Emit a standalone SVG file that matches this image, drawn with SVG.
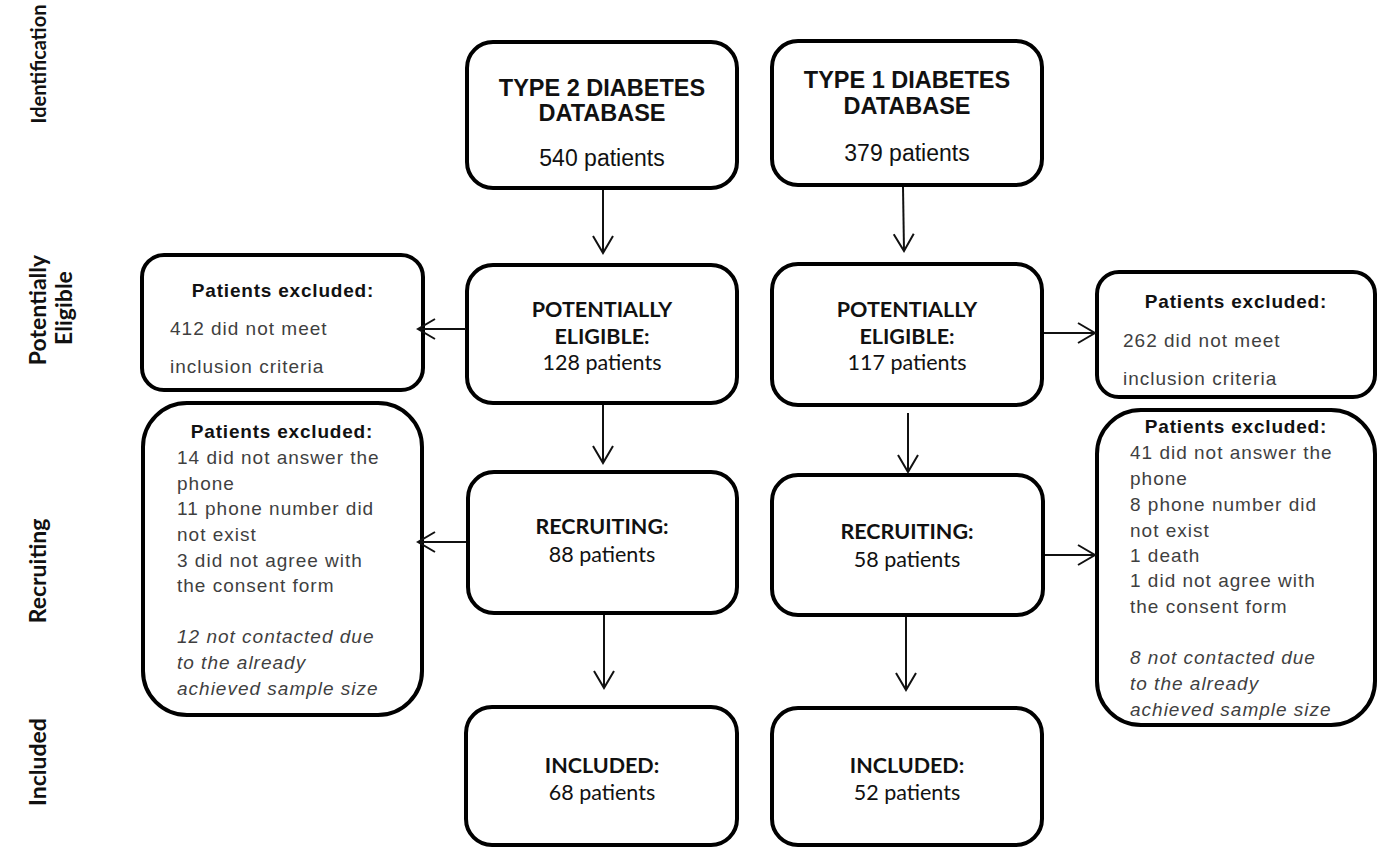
<svg xmlns="http://www.w3.org/2000/svg" width="1382" height="847" viewBox="0 0 1382 847">
<defs>
<style>
.box{fill:#fff;stroke:#000;stroke-width:4}
.side{font-family:Lato,"Liberation Sans",sans-serif;font-weight:bold;font-size:23px;fill:#111;text-anchor:middle}
.ab{font-family:"Liberation Sans",Arial,sans-serif;font-weight:bold;font-size:23.5px;fill:#111;text-anchor:middle}
.ar{font-family:"Liberation Sans",Arial,sans-serif;font-size:23px;fill:#111;text-anchor:middle}
.cb{font-family:Lato,"Liberation Sans",sans-serif;font-weight:bold;font-size:21.5px;fill:#111;text-anchor:middle}
.cr{font-family:Lato,"Liberation Sans",sans-serif;font-size:21.5px;fill:#111;text-anchor:middle}
.eh{font-family:"Liberation Sans",Arial,sans-serif;font-weight:bold;font-size:19px;letter-spacing:0.8px;fill:#111;text-anchor:middle}
.eb{font-family:"Liberation Sans",Arial,sans-serif;font-size:19px;letter-spacing:1px;fill:#3f3f3f}
.ei{font-style:italic}
.conn line{stroke:#111;stroke-width:2;fill:none;marker-end:url(#ah)}
</style>
<marker id="ah" markerUnits="userSpaceOnUse" viewBox="-20 -12 24 24" refX="0" refY="0" markerWidth="24" markerHeight="24" orient="auto">
<path d="M-17,-10 L0,0 L-17,10" fill="none" stroke="#111" stroke-width="2"/>
</marker>
</defs>
<rect width="1382" height="847" fill="#fff"/>

<g id="labels">
<text class="side" style="font-size:20px" transform="translate(46,64) rotate(-90)">Identification</text>
<text class="side" transform="translate(46,310) rotate(-90)">Potentially</text>
<text class="side" transform="translate(72,308) rotate(-90)">Eligible</text>
<text class="side" transform="translate(46,571) rotate(-90)">Recruiting</text>
<text class="side" transform="translate(46,762) rotate(-90)">Included</text>
</g>

<g id="t2db">
<rect class="box" x="467" y="42" width="270" height="146" rx="26"/>
<text class="ab" x="602" y="96">TYPE 2 DIABETES</text>
<text class="ab" x="602" y="121">DATABASE</text>
<text class="ar" x="602" y="166">540 patients</text>
</g>
<g id="t1db">
<rect class="box" x="772" y="41" width="270" height="144" rx="26"/>
<text class="ab" x="907" y="88">TYPE 1 DIABETES</text>
<text class="ab" x="907" y="114">DATABASE</text>
<text class="ar" x="907" y="161">379 patients</text>
</g>

<g id="excl1left">
<rect class="box" x="142" y="255" width="281" height="135" rx="22"/>
<text class="eh" x="283" y="297">Patients excluded:</text>
<text class="eb" x="170" y="335">412 did not meet</text>
<text class="eb" x="170" y="373">inclusion criteria</text>
</g>
<g id="t2pe">
<rect class="box" x="467" y="265" width="270" height="138" rx="26"/>
<text class="cb" x="602" y="317">POTENTIALLY</text>
<text class="cb" x="602" y="344">ELIGIBLE:</text>
<text class="cr" x="602" y="370">128 patients</text>
</g>
<g id="t1pe">
<rect class="box" x="772" y="264" width="270" height="141" rx="26"/>
<text class="cb" x="907" y="317">POTENTIALLY</text>
<text class="cb" x="907" y="344">ELIGIBLE:</text>
<text class="cr" x="907" y="370">117 patients</text>
</g>
<g id="excl1right">
<rect class="box" x="1097" y="272" width="278" height="125" rx="22"/>
<text class="eh" x="1236" y="308">Patients excluded:</text>
<text class="eb" x="1123" y="347">262 did not meet</text>
<text class="eb" x="1123" y="385">inclusion criteria</text>
</g>

<g id="excl2left">
<rect class="box" x="143" y="403" width="279" height="312" rx="44"/>
<text class="eh" x="282" y="438">Patients excluded:</text>
<text class="eb" x="177" y="464">14 did not answer the</text>
<text class="eb" x="177" y="490">phone</text>
<text class="eb" x="177" y="515">11 phone number did</text>
<text class="eb" x="177" y="541">not exist</text>
<text class="eb" x="177" y="567">3 did not agree with</text>
<text class="eb" x="177" y="592">the consent form</text>
<text class="eb ei" x="177" y="643">12 not contacted due</text>
<text class="eb ei" x="177" y="669">to the already</text>
<text class="eb ei" x="177" y="695">achieved sample size</text>
</g>
<g id="t2rec">
<rect class="box" x="468" y="472" width="269" height="141" rx="26"/>
<text class="cb" x="602" y="534">RECRUITING:</text>
<text class="cr" x="602" y="562">88 patients</text>
</g>
<g id="t1rec">
<rect class="box" x="772" y="475" width="271" height="140" rx="26"/>
<text class="cb" x="907" y="539">RECRUITING:</text>
<text class="cr" x="907" y="567">58 patients</text>
</g>
<g id="excl2right">
<rect class="box" x="1097" y="410" width="278" height="315" rx="44"/>
<text class="eh" x="1236" y="433">Patients excluded:</text>
<text class="eb" x="1130" y="459">41 did not answer the</text>
<text class="eb" x="1130" y="485">phone</text>
<text class="eb" x="1130" y="511">8 phone number did</text>
<text class="eb" x="1130" y="537">not exist</text>
<text class="eb" x="1130" y="562">1 death</text>
<text class="eb" x="1130" y="587">1 did not agree with</text>
<text class="eb" x="1130" y="613">the consent form</text>
<text class="eb ei" x="1130" y="664">8 not contacted due</text>
<text class="eb ei" x="1130" y="690">to the already</text>
<text class="eb ei" x="1130" y="716">achieved sample size</text>
</g>

<g id="t2inc">
<rect class="box" x="466" y="707" width="271" height="138" rx="26"/>
<text class="cb" x="602" y="773">INCLUDED:</text>
<text class="cr" x="602" y="800">68 patients</text>
</g>
<g id="t1inc">
<rect class="box" x="772" y="708" width="270" height="137" rx="26"/>
<text class="cb" x="907" y="773">INCLUDED:</text>
<text class="cr" x="907" y="800">52 patients</text>
</g>

<g id="connectors" class="conn">
<line x1="603" y1="190" x2="603" y2="253"/>
<line x1="603" y1="405" x2="603" y2="463"/>
<line x1="604" y1="615" x2="604" y2="688"/>
<line x1="903" y1="187" x2="904" y2="251"/>
<line x1="908" y1="413" x2="908" y2="472"/>
<line x1="906" y1="617" x2="906" y2="690"/>
<line x1="466" y1="329" x2="418" y2="329"/>
<line x1="466" y1="542" x2="418" y2="542"/>
<line x1="1044" y1="333" x2="1095" y2="333"/>
<line x1="1045" y1="555" x2="1095" y2="555"/>
</g>
</svg>
